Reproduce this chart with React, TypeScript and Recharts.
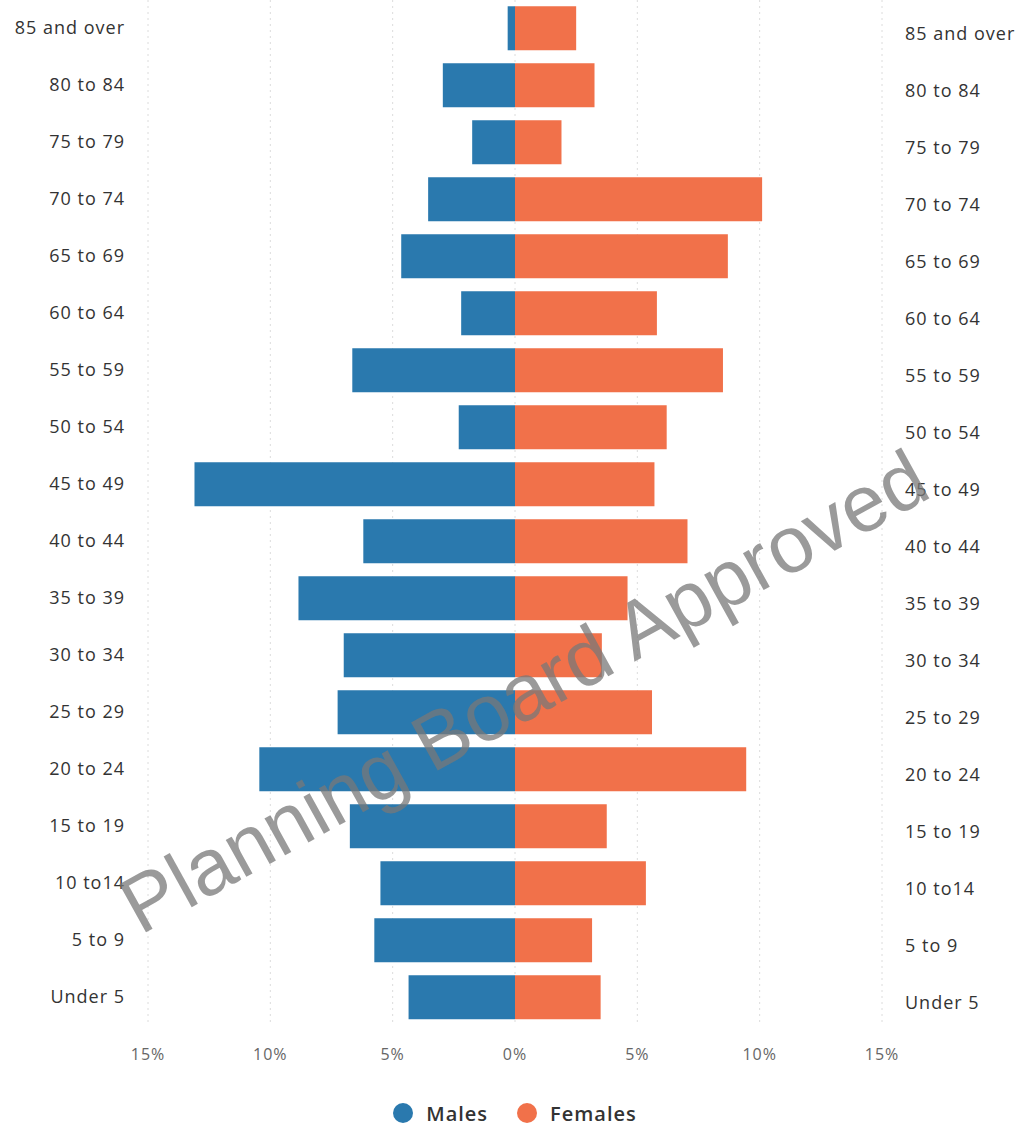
import React from "react";
import { BarChart, Bar, XAxis, YAxis, CartesianGrid, Legend } from "recharts";

const ageGroups = [
  "85 and over", "80 to 84", "75 to 79", "70 to 74", "65 to 69", "60 to 64",
  "55 to 59", "50 to 54", "45 to 49", "40 to 44", "35 to 39", "30 to 34",
  "25 to 29", "20 to 24", "15 to 19", "10 to14", "5 to 9", "Under 5",
];
const malesPct = [0.3, 2.95, 1.75, 3.55, 4.65, 2.2, 6.65, 2.3, 13.1, 6.2, 8.85, 7.0, 7.25, 10.45, 6.75, 5.5, 5.75, 4.35];
const femalesPct = [2.5, 3.25, 1.9, 10.1, 8.7, 5.8, 8.5, 6.2, 5.7, 7.05, 4.6, 3.55, 5.6, 9.45, 3.75, 5.35, 3.15, 3.5];
const xTicks = [-15, -10, -5, 0, 5, 10, 15];

const MALE = "#2a79ae";
const FEMALE = "#f1714a";
const FONT = "'Open Sans', sans-serif";

const data = ageGroups.map((g, i) => ({ group: g, males: -malesPct[i], females: femalesPct[i] }));

const LeftTick = (props: any) => {
  const { x, y, payload } = props;
  return (
    <text x={x} y={y} dy={-2} textAnchor="end" dominantBaseline="central" fontFamily={FONT} fontSize={18} letterSpacing={1} fill="#333">
      {payload.value}
    </text>
  );
};
const RightTick = (props: any) => {
  const { x, y, payload } = props;
  return (
    <text x={x} y={y} dy={4} textAnchor="start" dominantBaseline="central" fontFamily={FONT} fontSize={18} letterSpacing={1} fill="#333">
      {payload.value}
    </text>
  );
};
const BottomTick = (props: any) => {
  const { x, y, payload } = props;
  return (
    <text x={x} y={y} dy="0.71em" textAnchor="middle" fontFamily={FONT} fontSize={16} letterSpacing={1} fill="#666">
      {Math.abs(payload.value) + "%"}
    </text>
  );
};

const LegendContent = () => (
  <div style={{ display: "flex", justifyContent: "center", alignItems: "center", height: 26, fontFamily: FONT, fontSize: 20, fontWeight: 600, letterSpacing: 1, color: "#333", paddingLeft: 6 }}>
    <span style={{ display: "inline-flex", alignItems: "center", marginRight: 28 }}>
      <svg width={22} height={22} style={{ marginRight: 12 }}><circle cx={11} cy={11} r={10} fill={MALE} /></svg>
      Males
    </span>
    <span style={{ display: "inline-flex", alignItems: "center" }}>
      <svg width={22} height={22} style={{ marginRight: 12 }}><circle cx={11} cy={11} r={10} fill={FEMALE} /></svg>
      Females
    </span>
  </div>
);

export default function App() {
  return (
    <div style={{ position: "absolute", left: 0, top: 0, width: 1023, height: 1126, background: "#fff", overflow: "hidden" }}>
      <BarChart
        width={1023}
        height={1126}
        data={data}
        layout="vertical"
        stackOffset="sign"
        barCategoryGap="11%"
        margin={{ top: 0, right: 0, bottom: 0, left: 0 }}
      >
        <CartesianGrid horizontal={false} vertical={true} strokeDasharray="2 4" stroke="#dcdcdc" />
        <XAxis
          type="number"
          domain={[-15, 15]}
          ticks={xTicks}
          height={74}
          axisLine={false}
          tickLine={false}
          tickMargin={17}
          tick={<BottomTick />}
          allowDataOverflow
        />
        <YAxis
          yAxisId="left"
          type="category"
          dataKey="group"
          orientation="left"
          width={148}
          axisLine={false}
          tickLine={false}
          tickMargin={17}
          tick={<LeftTick />}
          interval={0}
        />
        <YAxis
          yAxisId="right"
          type="category"
          dataKey="group"
          orientation="right"
          width={141}
          axisLine={false}
          tickLine={false}
          tickMargin={17}
          tick={<RightTick />}
          interval={0}
        />
        <Legend verticalAlign="bottom" height={26} content={<LegendContent />} />
        <Bar yAxisId="left" dataKey="males" name="Males" stackId="a" fill={MALE} isAnimationActive={false} />
        <Bar yAxisId="left" dataKey="females" name="Females" stackId="a" fill={FEMALE} isAnimationActive={false} />
      </BarChart>
      <div
        style={{
          position: "absolute",
          left: 524,
          top: 692,
          transform: "translate(-50%, -50%) rotate(-29deg)",
          whiteSpace: "nowrap",
          fontFamily: "'Liberation Sans', Arial, sans-serif",
          fontSize: 80,
          color: "rgba(120,120,120,0.75)",
          pointerEvents: "none",
        }}
      >
        Planning Board Approved
      </div>
    </div>
  );
}
